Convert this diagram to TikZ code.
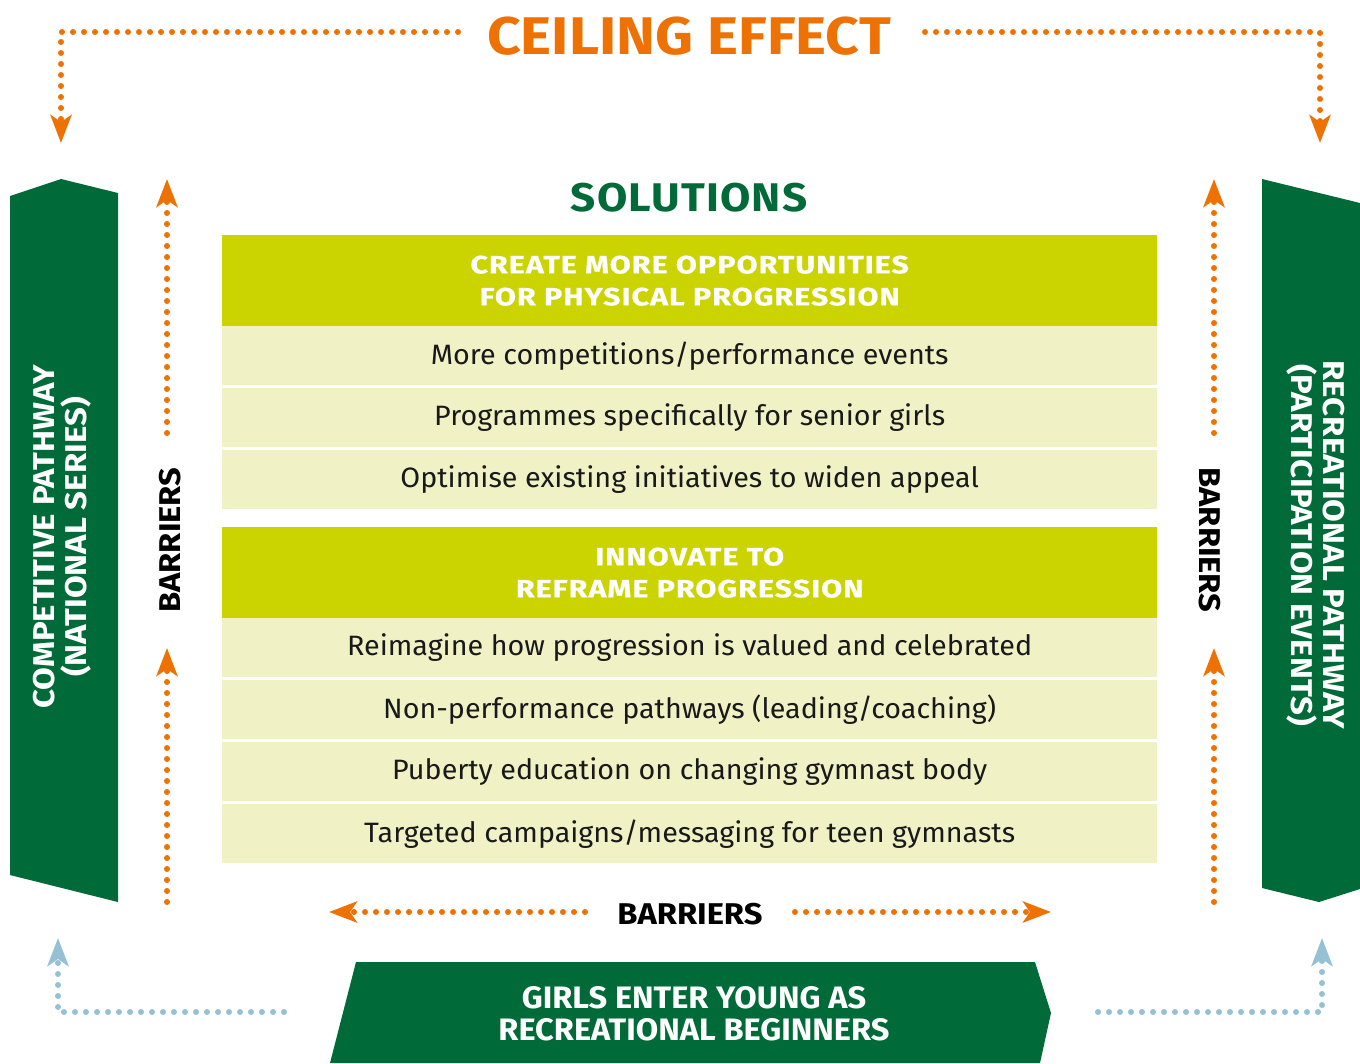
\documentclass[tikz,border=0pt]{standalone}
\usepackage{fontspec}
\setmainfont{Fira Sans}
\usetikzlibrary{arrows.meta}
\definecolor{orng}{HTML}{EE7203}
\definecolor{dkgreen}{HTML}{006A38}
\definecolor{lime}{HTML}{CBD400}
\definecolor{pale}{HTML}{F0F2C6}
\definecolor{skyblue}{HTML}{96C0D4}
\tikzset{
  dots/.style={line width=6pt, line cap=round, dash pattern=on 0pt off 11pt,
    -{Stealth[length=28pt, width=21pt, inset=7pt]}},
  orangedots/.style={dots, draw=orng},
  bluedots/.style={dots, draw=skyblue},
  headbox/.style={fill=lime, text=white, minimum width=935pt, minimum height=91pt,
    anchor=north west, inner sep=0pt, align=center,
    font=\bfseries\addfontfeatures{FakeStretch=1.22, LetterSpace=4, FakeBold=0.5}\fontsize{25}{32}\selectfont},
  rowbox/.style={fill=pale, text=black!90, minimum width=935pt, minimum height=59pt,
    anchor=north west, inner sep=0pt,
    font=\addfontfeatures{FakeStretch=1.025}\fontsize{28}{32}\selectfont},
  pathlabel/.style={text=white, align=center, inner sep=0pt,
    font=\bfseries\addfontfeatures{FakeStretch=1.1}\fontsize{30}{32}\selectfont},
  barrier/.style={text=black, inner sep=0pt,
    font=\bfseries\addfontfeatures{FakeStretch=1.09}\fontsize{30}{32}\selectfont},
}
\begin{document}
\begin{tikzpicture}[x=1pt, y=-1pt]
\useasboundingbox (0,0) rectangle (1360,1063);

% side and bottom pathway shapes
\fill[dkgreen] (10,196) -- (61,179) -- (118,193) -- (118,902) -- (10,875) -- cycle;
\fill[dkgreen] (1262,179) -- (1360,203) -- (1360,889) -- (1319,902) -- (1262,888) -- cycle;
\fill[dkgreen] (356,962) -- (1035,962) -- (1051,1013) -- (1040,1063) -- (330,1063) -- cycle;

\node[pathlabel, rotate=90] (comp) at (62,537) {COMPETITIVE PATHWAY\\(NATIONAL SERIES)};
\node[pathlabel, rotate=-90] (recr) at (1316,545) {RECREATIONAL PATHWAY\\(PARTICIPATION EVENTS)};
\node[text=white, align=center, inner sep=0pt,
  font=\bfseries\addfontfeatures{FakeStretch=1.05}\fontsize{31}{32}\selectfont] (girls) at (694,1014)
  {GIRLS ENTER YOUNG AS\\RECREATIONAL BEGINNERS};

% titles
\node[text=orng, inner sep=0pt,
  font=\bfseries\addfontfeatures{FakeStretch=1.11}\fontsize{53}{60}\selectfont] (ceiling) at (689,36) {CEILING EFFECT};
\node[text=dkgreen, inner sep=0pt,
  font=\bfseries\addfontfeatures{FakeStretch=1.1, LetterSpace=3}\fontsize{40}{44}\selectfont] (sol) at (689,198) {SOLUTIONS};

% solutions table
\node[headbox] (h1) at (222,235) {CREATE MORE OPPORTUNITIES\\FOR PHYSICAL PROGRESSION};
\node[rowbox] (r1) at (222,326) {More competitions/performance events};
\node[rowbox] (r2) at (222,388) {Programmes specifically for senior girls};
\node[rowbox] (r3) at (222,450) {Optimise existing initiatives to widen appeal};
\node[headbox] (h2) at (222,527) {INNOVATE TO\\REFRAME PROGRESSION};
\node[rowbox] (r4) at (222,618) {Reimagine how progression is valued and celebrated};
\node[rowbox] (r5) at (222,680) {Non-performance pathways (leading/coaching)};
\node[rowbox] (r6) at (222,742) {Puberty education on changing gymnast body};
\node[rowbox] (r7) at (222,804) {Targeted campaigns/messaging for teen gymnasts};

% barrier labels
\node[barrier, rotate=90] (bl) at (170,540) {BARRIERS};
\node[barrier, rotate=-90] (br) at (1210,540) {BARRIERS};
\node[barrier] (bb) at (690,914) {BARRIERS};

% arrow end points
\coordinate (cl0) at (458,32);  \coordinate (clc) at (61,32);   \coordinate (cl1) at (61,143);
\coordinate (cr0) at (925,32);  \coordinate (crc) at (1320,32); \coordinate (cr1) at (1320,143);
\coordinate (lu0) at (167,433); \coordinate (lu1) at (167,179);
\coordinate (ll0) at (167,902); \coordinate (ll1) at (167,648);
\coordinate (ru0) at (1214,433); \coordinate (ru1) at (1214,179);
\coordinate (rl0) at (1214,902); \coordinate (rl1) at (1214,648);
\coordinate (bl0) at (585,912); \coordinate (bl1) at (329,912);
\coordinate (br0) at (795,912); \coordinate (br1) at (1051,912);
\coordinate (gl0) at (284,1012); \coordinate (glc) at (58,1012); \coordinate (gl1) at (58,938);
\coordinate (gr0) at (1098,1012); \coordinate (grc) at (1322,1012); \coordinate (gr1) at (1322,938);

% dotted connectors
\draw[orangedots] (cl0) -- (clc) -- (cl1);
\draw[orangedots] (cr0) -- (crc) -- (cr1);
\draw[orangedots] (lu0) -- (lu1);
\draw[orangedots] (ll0) -- (ll1);
\draw[orangedots] (ru0) -- (ru1);
\draw[orangedots] (rl0) -- (rl1);
\draw[orangedots] (bl0) -- (bl1);
\draw[orangedots] (br0) -- (br1);
\draw[bluedots] (gl0) -- (glc) -- (gl1);
\draw[bluedots] (gr0) -- (grc) -- (gr1);
\end{tikzpicture}
\end{document}
